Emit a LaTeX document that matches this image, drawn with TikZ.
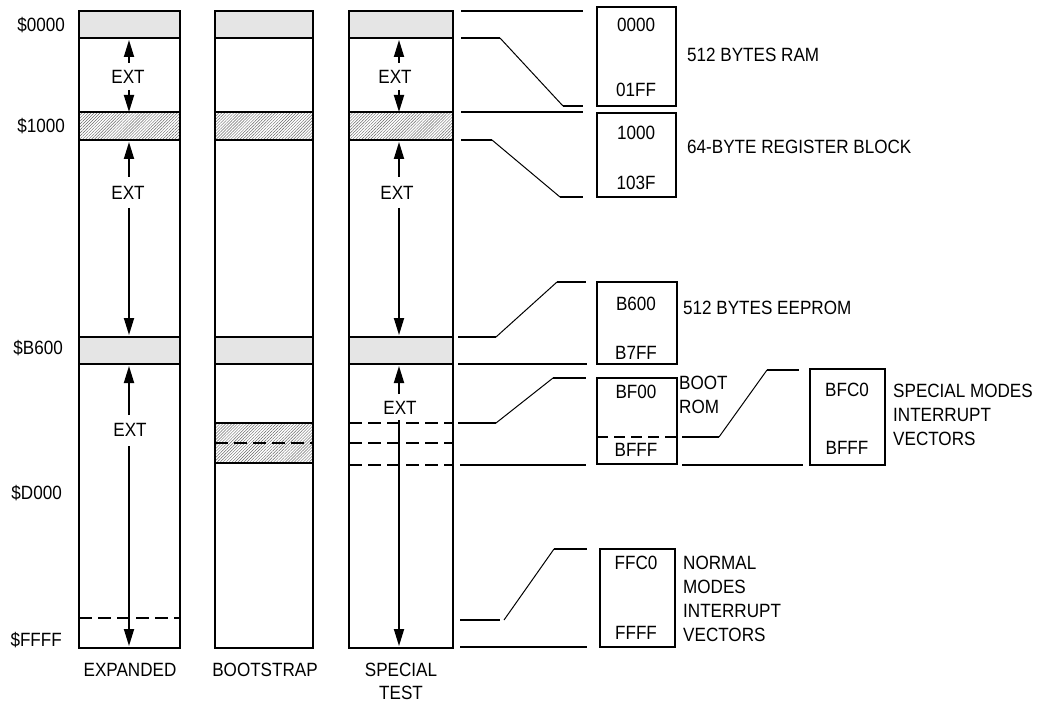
\documentclass[tikz,border=0pt]{standalone}
\usepackage{fontspec}
\setmainfont{Liberation Sans}[FakeStretch=0.89]
\usetikzlibrary{patterns.meta,arrows.meta}
\begin{document}
\begin{tikzpicture}[x=1pt,y=-1pt,
  txt/.style={inner sep=0pt, text height=13.8pt, text depth=0pt, font=\fontsize{19.2}{22}\selectfont},
  colline/.style={line width=2pt},
  grayband/.style={fill=black!10},
  hatchband/.style={pattern={Lines[angle=45,distance=2.1pt,line width=0.45pt]}, pattern color=black!60},
  dashline/.style={line width=2pt, dash pattern=on 13pt off 6pt},
  ar/.style={line width=1.8pt, -{Triangle[length=17pt,width=10pt]}},
  lead/.style={line width=2pt},
  diag/.style={line width=1pt},
  memb/.style={draw, line width=2pt, inner sep=0pt}
]
\useasboundingbox (0,0) rectangle (1040,703);

% ---------- column 1: EXPANDED ----------
\fill[grayband] (79,11) rectangle (180,38);
\fill[hatchband] (79,112) rectangle (180,140);
\fill[grayband] (79,337) rectangle (180,364);
\draw[dashline] (79,618) -- (180,618);
\draw[colline] (79,11) rectangle (180,648);
\draw[colline] (79,38) -- (180,38) (79,112) -- (180,112) (79,140) -- (180,140)
  (79,337) -- (180,337) (79,364) -- (180,364);

% ---------- column 2: BOOTSTRAP ----------
\fill[grayband] (215,11) rectangle (313,38);
\fill[hatchband] (215,112) rectangle (313,140);
\fill[grayband] (215,337) rectangle (313,364);
\fill[hatchband] (215,423) rectangle (313,463);
\draw[dashline] (215,443) -- (313,443);
\draw[colline] (215,11) rectangle (313,648);
\draw[colline] (215,38) -- (313,38) (215,112) -- (313,112) (215,140) -- (313,140)
  (215,337) -- (313,337) (215,364) -- (313,364) (215,423) -- (313,423) (215,463) -- (313,463);

% ---------- column 3: SPECIAL TEST ----------
\fill[grayband] (349,11) rectangle (453,38);
\fill[hatchband] (349,112) rectangle (453,140);
\fill[grayband] (349,337) rectangle (453,364);
\draw[dashline] (349,423) -- (453,423) (349,443) -- (453,443) (349,465) -- (453,465);
\draw[colline] (349,11) rectangle (453,648);
\draw[colline] (349,38) -- (453,38) (349,112) -- (453,112) (349,140) -- (453,140)
  (349,337) -- (453,337) (349,364) -- (453,364);

% ---------- EXT labels and arrows ----------
\node[txt] (e1a) at (128,77) {EXT};
\node[txt] (e1b) at (128,193) {EXT};
\node[txt] (e1c) at (130,430) {EXT};
\node[txt] (e3a) at (395,77) {EXT};
\node[txt] (e3b) at (397,193) {EXT};
\node[txt] (e3c) at (400,408) {EXT};

\draw[ar] (129,63) -- (129,40);
\draw[ar] (129,90) -- (129,112);
\draw[ar] (129,177) -- (129,142);
\draw[ar] (129,208) -- (129,335);
\draw[ar] (129,415) -- (129,366);
\draw[ar] (129,446) -- (129,646);

\draw[ar] (399,63) -- (399,40);
\draw[ar] (399,90) -- (399,112);
\draw[ar] (399,177) -- (399,142);
\draw[ar] (399,208) -- (399,335);
\draw[ar] (399,394) -- (399,366);
\draw[ar] (399,420) -- (399,646);

% ---------- address labels ----------
\node[txt, anchor=east] (a0) at (65,25) {\$0000};
\node[txt, anchor=east] (a1) at (65,126) {\$1000};
\node[txt, anchor=east] (a2) at (63,348) {\$B600};
\node[txt, anchor=east] (a3) at (62,493) {\$D000};
\node[txt, anchor=east] (a4) at (62,640) {\$FFFF};

% ---------- column titles ----------
\node[txt] (t1) at (130,670) {EXPANDED};
\node[txt] (t2) at (265,670) {BOOTSTRAP};
\node[txt] (t3) at (401,670) {SPECIAL};
\node[txt] (t4) at (401,693) {TEST};

% ---------- detail boxes ----------
\node[memb, minimum width=79pt, minimum height=99pt] (ram) at (636.5,56.5) {};
\node[txt] (ram1) at (636,25) {0000};
\node[txt] (ram2) at (636,90) {01FF};
\node[txt, anchor=west] (raml) at (687,55) {512 BYTES RAM};

\node[memb, minimum width=79pt, minimum height=84pt] (reg) at (636.5,155) {};
\node[txt] (reg1) at (636,133) {1000};
\node[txt] (reg2) at (636,183) {103F};
\node[txt, anchor=west] (regl) at (687,147) {64-BYTE REGISTER BLOCK};

\node[memb, minimum width=80pt, minimum height=82pt] (eep) at (637,323) {};
\node[txt] (eep1) at (636,304) {B600};
\node[txt] (eep2) at (636,353) {B7FF};
\node[txt, anchor=west] (eepl) at (683,308) {512 BYTES EEPROM};

\node[memb, minimum width=80pt, minimum height=86pt] (boot) at (637,421) {};
\node[txt] (boot1) at (636,392) {BF00};
\node[txt] (boot2) at (636,450) {BFFF};
\draw[dashline, dash pattern=on 11pt off 6pt] (597,437) -- (677,437);
\node[txt, anchor=west] (bootl1) at (679,383) {BOOT};
\node[txt, anchor=west] (bootl2) at (679,407) {ROM};

\node[memb, minimum width=75pt, minimum height=96pt] (spv) at (847.5,417) {};
\node[txt] (spv1) at (847,390) {BFC0};
\node[txt] (spv2) at (847,448) {BFFF};
\node[txt, anchor=west] (spl1) at (893,391) {SPECIAL MODES};
\node[txt, anchor=west] (spl2) at (893,415) {INTERRUPT};
\node[txt, anchor=west] (spl3) at (893,439) {VECTORS};

\node[memb, minimum width=75pt, minimum height=98pt] (nv) at (637.5,598) {};
\node[txt] (nv1) at (636,563) {FFC0};
\node[txt] (nv2) at (636,633) {FFFF};
\node[txt, anchor=west] (nl1) at (683,563) {NORMAL};
\node[txt, anchor=west] (nl2) at (683,587) {MODES};
\node[txt, anchor=west] (nl3) at (683,611) {INTERRUPT};
\node[txt, anchor=west] (nl4) at (683,635) {VECTORS};

% ---------- leader lines ----------
% RAM
\draw[lead] (461,11) -- (583,11);
\draw[lead] (461,38) -- (500,38);
\draw[diag] (500,38) -- (563,106);
\draw[lead] (563,106) -- (583,106);
% register block
\draw[lead] (461,112) -- (583,112);
\draw[lead] (461,140) -- (492,140);
\draw[diag] (492,140) -- (560,197);
\draw[lead] (560,197) -- (583,197);
% EEPROM
\draw[lead] (458,337) -- (496,337);
\draw[diag] (496,337) -- (557,282);
\draw[lead] (557,282) -- (586,282);
\draw[lead] (458,364) -- (587,364);
% boot ROM
\draw[lead] (458,423) -- (496,423);
\draw[diag] (496,423) -- (553,378);
\draw[lead] (553,378) -- (586,378);
\draw[lead] (460,465) -- (586,465);
% special modes vectors
\draw[lead] (682,437) -- (719,437);
\draw[diag] (719,437) -- (767,370);
\draw[lead] (767,370) -- (799,370);
\draw[lead] (682,465) -- (803,465);
% normal vectors
\draw[lead] (460,620) -- (500,620);
\draw[diag] (504,620) -- (554,549);
\draw[lead] (554,549) -- (587,549);
\draw[lead] (460,647) -- (587,647);
\end{tikzpicture}
\end{document}
